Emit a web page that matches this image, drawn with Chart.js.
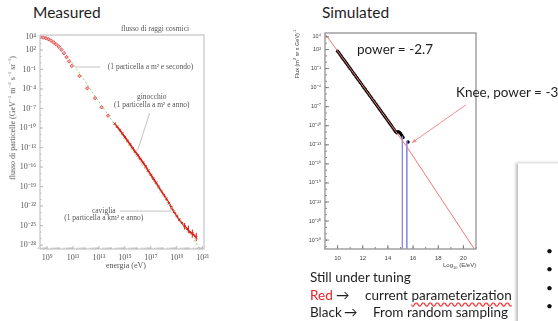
<!DOCTYPE html>
<html>
<head>
<meta charset="utf-8">
<script src="https://cdn.jsdelivr.net/npm/chart.js@4.4.1/dist/chart.umd.min.js"></script>
<style>
  html, body { margin: 0; padding: 0; background: #fff; }
  body { width: 558px; height: 321px; position: relative; overflow: hidden;
         font-family: Lato, "Liberation Sans", sans-serif; color: #1e1e1e; }
  .t { position: absolute; white-space: nowrap; line-height: 1; }
  .rot { transform: translate(-50%, -50%) rotate(-90deg); }
  .serif { font-family: "Liberation Serif", serif; color: #555; }
  canvas { position: absolute; top: 0; }
  #panel { position: absolute; left: 518px; top: 163px; width: 60px; height: 170px; background: #fff;
           border-top: 1px solid #eee; box-shadow: -2px 0 3px rgba(0,0,0,0.28); }
  .dot { position: absolute; left: 546px; font-size: 12px; line-height: 1; color: #111; }
</style>
</head>
<body>

<div class="t" style="left:33px; top:5px; font-size:15.5px;">Measured</div>
<div class="t" style="left:322px; top:5px; font-size:15.5px;">Simulated</div>

<canvas id="measured" width="230" height="280" style="left:0px;"></canvas>
<canvas id="simulated" width="288" height="280" style="left:270px;"></canvas>

<!-- axis titles -->
<div class="t serif" style="left:155px; top:29px; font-size:7.5px; transform:translate(-50%,-50%);">flusso di raggi cosmici</div>
<div class="t serif rot" style="left:12px; top:118px; font-size:8px;">flusso di particelle (GeV<sup style="font-size:5px">−1</sup> m<sup style="font-size:5px">−2</sup> s<sup style="font-size:5px">−1</sup> sr<sup style="font-size:5px">−1</sup>)</div>
<div class="t serif" style="left:126px; top:266px; font-size:8px; transform:translate(-50%,-50%);">energia (eV)</div>

<div class="t rot" style="left:297px; top:54px; font-size:5.5px; font-family:'Liberation Sans'; color:#444;">Flux (m<sup style="font-size:4px">2</sup> sr s GeV)<sup style="font-size:4px">-1</sup></div>
<div class="t" style="left:443px; top:262px; font-size:6px; font-family:'Liberation Sans'; color:#444;">Log<sub style="font-size:4px">10</sub> (E/eV)</div>

<div class="t" style="left:357px; top:43px; font-size:13.5px;">power = -2.7</div>
<div class="t" style="left:456px; top:86px; font-size:13.5px;">Knee, power = -3</div>

<div class="t" style="left:310px; top:271px; font-size:13.5px;">Still under tuning</div>
<div class="t" style="left:310px; top:289px; font-size:13.5px;"><span style="color:#e8202a">Red</span></div>
<div class="t" style="left:336px; top:289px; font-size:13.5px;">→</div>
<div class="t" style="left:365px; top:289px; font-size:13.5px;">current <span style="text-decoration:underline wavy #e33; text-underline-offset:2px;">parameterization</span></div>
<div class="t" style="left:310px; top:306px; font-size:13.5px;">Black</div>
<div class="t" style="left:344px; top:306px; font-size:13.5px;">→</div>
<div class="t" style="left:373px; top:306px; font-size:13.5px;">From random sampling</div>

<div id="panel"></div>
<div class="dot" style="top:245px;">•</div>
<div class="dot" style="top:263px;">•</div>
<div class="dot" style="top:282px;">•</div>
<div class="dot" style="top:300px;">•</div>

<script>
// ---- measured spectrum (log10 E/eV, log10 flux) ----
var measLowE = [8.5, 8.7, 8.9, 9.1, 9.3, 9.5, 9.7, 9.9, 10.1, 10.3, 10.5, 10.7, 10.9, 11.5, 12.1, 12.7, 13.2, 13.7];
var measLowF = [3.98, 3.92, 3.82, 3.66, 3.45, 3.15, 2.85, 2.5, 2.05, 1.5, 0.9, 0.25, -0.45, -2.0, -3.9, -5.4, -6.8, -8.1];

var measHighE = [14.2, 14.4, 14.6, 14.8, 15.0, 15.2, 15.4, 15.6, 15.8, 16.0, 16.2, 16.4, 16.6, 16.8, 17.0,
                 17.2, 17.4, 17.6, 17.8, 18.0, 18.2, 18.4, 18.6, 18.8, 19.0, 19.2, 19.4, 19.6, 19.8, 20.0, 20.2, 20.5];
var measHighF = [-9.3, -9.8, -10.3, -10.85, -11.4, -11.95, -12.5, -13.1, -13.65, -14.2, -14.75, -15.3, -15.9, -16.55, -17.2,
                 -17.8, -18.4, -19.05, -19.7, -20.3, -20.9, -21.55, -22.25, -22.9, -23.5, -24.1, -24.6, -25.1, -25.5, -26.0, -26.2, -26.8];

// error bars on the highest-energy points
var errE = [19.6, 19.9, 20.2, 20.5];
var errLo = [-25.6, -26.1, -26.8, -27.4];
var errHi = [-24.6, -25.0, -25.6, -26.1];

// straight reference line (dashed green)
var fitE = [10.9, 20.8];
var fitF = [0.15, -28.6];

var measXTicks = [9, 11, 13, 15, 17, 19, 21];
var measYTicks = [4, 2, -1, -4, -7, -10, -13, -16, -19, -22, -25, -28];

var measNotes = [
  { text: '(1 particella a m² e secondo)', e: 13.68, f: -0.62, align: 'left' },
  { text: 'ginocchio', e: 17.07, f: -5.23, align: 'center' },
  { text: '(1 particella a m² e anno)', e: 17.07, f: -6.4, align: 'center' },
  { text: 'caviglia', e: 13.37, f: -22.77, align: 'center' },
  { text: '(1 particella a km² e anno)', e: 13.37, f: -23.85, align: 'center' }
];
var measLeaders = [[11.2, -0.62, 13.1, -0.62], [16.91, -7.69, 15.99, -13.38], [14.6, -22.77, 18.6, -22.77]];

// ---- simulated spectrum ----
var paramE = [9, 15.5, 21];
var paramF = [4.5, -13.3, -29.8];

var sampleE = [10.0, 10.1, 10.2, 10.3, 10.4, 10.5, 10.6, 10.7, 10.8, 10.9, 11.0, 11.1, 11.2, 11.3, 11.4, 11.5,
               11.6, 11.7, 11.8, 11.9, 12.0, 12.1, 12.2, 12.3, 12.4, 12.5, 12.6, 12.7, 12.8, 12.9, 13.0, 13.1,
               13.2, 13.3, 13.4, 13.5, 13.6, 13.7, 13.8, 13.9, 14.0, 14.1, 14.2, 14.3, 14.4, 14.5, 14.6, 14.7,
               14.8, 14.9, 15.0, 15.1, 15.2, 15.6];
var sampleF = [1.74, 1.50, 1.20, 0.95, 0.64, 0.40, 0.11, -0.15, -0.44, -0.70, -0.99, -1.24, -1.53, -1.81, -2.07, -2.36,
               -2.63, -2.89, -3.18, -3.44, -3.73, -4.00, -4.26, -4.55, -4.81, -5.10, -5.37, -5.63, -5.92, -6.18, -6.47, -6.74,
               -7.00, -7.29, -7.55, -7.84, -8.12, -8.38, -8.66, -8.93, -9.22, -9.49, -9.77, -10.05, -10.33, -10.62, -10.90, -11.10,
               -10.95, -11.0, -11.2, -11.5, -11.85, -12.55];

// histogram bins that drop to zero near the knee
var binE = [15.15, 15.5];
var binTop = [-11.7, -12.4];

var simXTicks = [10, 12, 14, 16, 18, 20];
var simYTicks = [4, 2, -1, -4, -7, -10, -13, -16, -19, -22, -25, -28];

function pts(es, fs) {
  return es.map(function (e, i) { return { x: e, y: Math.pow(10, fs[i]) }; });
}
function ptsLog(es, fs) {
  return es.map(function (e, i) { return { x: Math.pow(10, e), y: Math.pow(10, fs[i]) }; });
}
function sup(n) {
  var m = { '-': '⁻', '0': '⁰', '1': '¹', '2': '²', '3': '³', '4': '⁴', '5': '⁵', '6': '⁶', '7': '⁷', '8': '⁸', '9': '⁹' };
  return String(n).split('').map(function (c) { return m[c]; }).join('');
}
function expLabel(v) { return '10' + sup(Math.round(Math.log10(v))); }

// frame around the plot plus inward tick marks
var frameTicks = {
  id: 'frameTicks',
  afterDraw: function (chart, args, o) {
    var ctx = chart.ctx, a = chart.chartArea, x = chart.scales.x, y = chart.scales.y;
    ctx.save();
    ctx.strokeStyle = o.tickColor;
    ctx.lineWidth = 0.8;
    ctx.beginPath();
    o.xMajor.forEach(function (v) { var p = x.getPixelForValue(v); ctx.moveTo(p, a.bottom); ctx.lineTo(p, a.bottom - o.majorLen); });
    o.xMinor.forEach(function (v) { var p = x.getPixelForValue(v); ctx.moveTo(p, a.bottom); ctx.lineTo(p, a.bottom - o.minorLen); });
    o.yMajor.forEach(function (v) { var p = y.getPixelForValue(v); ctx.moveTo(a.left, p); ctx.lineTo(a.left + o.majorLen, p); });
    o.yMinor.forEach(function (v) { var p = y.getPixelForValue(v); ctx.moveTo(a.left, p); ctx.lineTo(a.left + o.minorLen, p); });
    ctx.stroke();
    ctx.strokeStyle = o.color;
    ctx.lineWidth = o.width;
    ctx.strokeRect(a.left, a.top, a.right - a.left, a.bottom - a.top);
    ctx.restore();
  }
};

// leader lines, captions and error bars on the measured panel
var measExtras = {
  id: 'measExtras',
  afterDatasetsDraw: function (chart) {
    var ctx = chart.ctx, x = chart.scales.x, y = chart.scales.y;
    function px(e) { return x.getPixelForValue(Math.pow(10, e)); }
    function py(f) { return y.getPixelForValue(Math.pow(10, f)); }
    ctx.save();
    ctx.strokeStyle = '#e01e1e';
    ctx.lineWidth = 1;
    ctx.beginPath();
    errE.forEach(function (e, i) { ctx.moveTo(px(e), py(errLo[i])); ctx.lineTo(px(e), py(errHi[i])); });
    ctx.stroke();
    ctx.strokeStyle = '#b4b4b4';
    ctx.lineWidth = 0.8;
    ctx.beginPath();
    measLeaders.forEach(function (l) { ctx.moveTo(px(l[0]), py(l[1])); ctx.lineTo(px(l[2]), py(l[3])); });
    ctx.stroke();
    ctx.fillStyle = '#555';
    ctx.font = '7.5px "Liberation Serif"';
    ctx.textBaseline = 'middle';
    measNotes.forEach(function (n) {
      ctx.textAlign = n.align;
      ctx.fillText(n.text, px(n.e), py(n.f));
    });
    ctx.restore();
  }
};

// arrow pointing at the knee
var kneeArrow = {
  id: 'kneeArrow',
  afterDatasetsDraw: function (chart) {
    var ctx = chart.ctx, x = chart.scales.x, y = chart.scales.y;
    var x0 = x.getPixelForValue(20.2), y0 = y.getPixelForValue(Math.pow(10, -6.7));
    var x1 = x.getPixelForValue(15.9), y1 = y.getPixelForValue(Math.pow(10, -12.7));
    var ang = Math.atan2(y1 - y0, x1 - x0);
    ctx.save();
    ctx.strokeStyle = '#f08c8c';
    ctx.fillStyle = '#f08c8c';
    ctx.lineWidth = 1;
    ctx.beginPath(); ctx.moveTo(x0, y0); ctx.lineTo(x1, y1); ctx.stroke();
    ctx.beginPath();
    ctx.moveTo(x1, y1);
    ctx.lineTo(x1 - 5 * Math.cos(ang - 0.4), y1 - 5 * Math.sin(ang - 0.4));
    ctx.lineTo(x1 - 5 * Math.cos(ang + 0.4), y1 - 5 * Math.sin(ang + 0.4));
    ctx.closePath(); ctx.fill();
    ctx.restore();
  }
};

var range = function (a, b) { var r = []; for (var i = a; i <= b; i++) r.push(i); return r; };
var measXMinor = [];
range(8, 20).forEach(function (d) { for (var k = 2; k <= 9; k++) measXMinor.push(Math.pow(10, d) * k); });

var ctx = document.getElementById('measured').getContext('2d');
var measChart = new Chart(ctx, {
  type: 'scatter',
  data: {
    datasets: [
      { data: ptsLog(fitE, fitF), showLine: true, borderColor: '#8fd27c', borderDash: [2, 2], borderWidth: 1, pointRadius: 0 },
      { data: ptsLog(measLowE, measLowF), pointStyle: 'rectRot', pointRadius: 1.8,
        backgroundColor: 'rgba(240,110,110,0.6)', borderColor: '#e02828', borderWidth: 0.7 },
      { data: ptsLog(measHighE, measHighF), showLine: true, borderColor: '#e01e1e', borderWidth: 1.8,
        pointStyle: 'crossRot', pointRadius: 1.6, pointBorderColor: '#e01e1e', pointBorderWidth: 1 }
    ]
  },
  options: {
    responsive: false,
    animation: false,
    layout: { padding: { top: 35, right: 26, left: 0, bottom: 0 } },
    plugins: {
      legend: { display: false },
      tooltip: { enabled: false },
      frameTicks: {
        color: '#c4c4c4', width: 1.2, tickColor: '#aaa', majorLen: 3, minorLen: 1.5,
        xMajor: measXTicks.map(function (e) { return Math.pow(10, e); }),
        xMinor: measXMinor,
        yMajor: measYTicks.map(function (e) { return Math.pow(10, e); }),
        yMinor: range(-28, 4).map(function (e) { return Math.pow(10, e); })
      }
    },
    scales: {
      x: {
        type: 'logarithmic',
        min: Math.pow(10, 8.45), max: Math.pow(10, 21.1),
        grid: { display: false, drawTicks: false },
        border: { display: false },
        afterBuildTicks: function (s) { s.ticks = measXTicks.map(function (e) { return { value: Math.pow(10, e) }; }); },
        afterFit: function (s) { s.height = 31; },
        ticks: { callback: expLabel, autoSkip: false, maxRotation: 0, padding: 4,
                 color: '#555', font: { family: 'Liberation Serif', size: 8 } }
      },
      y: {
        type: 'logarithmic',
        min: Math.pow(10, -28.6), max: Math.pow(10, 4.3),
        grid: { display: false, drawTicks: false },
        border: { display: false },
        afterBuildTicks: function (s) { s.ticks = measYTicks.map(function (e) { return { value: Math.pow(10, e) }; }); },
        afterFit: function (s) { s.width = 40; },
        ticks: { callback: expLabel, autoSkip: false, padding: 4,
                 color: '#555', font: { family: 'Liberation Serif', size: 8 } }
      }
    }
  },
  plugins: [frameTicks, measExtras]
});

var binSets = binE.map(function (e, i) {
  return { data: [{ x: e, y: Math.pow(10, binTop[i]) }, { x: e, y: Math.pow(10, -31) }],
           showLine: true, borderColor: '#8a8ae6', borderWidth: 1, pointRadius: 0 };
});

var ctx = document.getElementById('simulated').getContext('2d');
var simChart = new Chart(ctx, {
  type: 'scatter',
  data: {
    datasets: [
      { data: pts(paramE, paramF), showLine: true, borderColor: '#f07878', borderWidth: 1, pointRadius: 0 }
    ].concat(binSets).concat([
      { data: pts(sampleE, sampleF), pointRadius: 1.7, backgroundColor: '#000', borderColor: '#000', borderWidth: 0 }
    ])
  },
  options: {
    responsive: false,
    animation: false,
    layout: { padding: { top: 33, right: 82, left: 0, bottom: 0 } },
    plugins: {
      legend: { display: false },
      tooltip: { enabled: false },
      frameTicks: {
        color: '#9a9a9a', width: 1.4, tickColor: '#666', majorLen: 4, minorLen: 2,
        xMajor: simXTicks,
        xMinor: range(9, 21),
        yMajor: simYTicks.map(function (e) { return Math.pow(10, e); }),
        yMinor: range(-29, 4).map(function (e) { return Math.pow(10, e); })
      }
    },
    scales: {
      x: {
        type: 'linear', min: 9, max: 21,
        grid: { display: false, drawTicks: false },
        border: { display: false },
        afterBuildTicks: function (s) { s.ticks = simXTicks.map(function (v) { return { value: v }; }); },
        afterFit: function (s) { s.height = 31; },
        ticks: { autoSkip: false, maxRotation: 0, padding: 6,
                 color: '#444', font: { family: 'Liberation Sans', size: 6 } }
      },
      y: {
        type: 'logarithmic',
        min: Math.pow(10, -29.4), max: Math.pow(10, 4.6),
        grid: { display: false, drawTicks: false },
        border: { display: false },
        afterBuildTicks: function (s) { s.ticks = simYTicks.map(function (e) { return { value: Math.pow(10, e) }; }); },
        afterFit: function (s) { s.width = 55; },
        ticks: { callback: expLabel, autoSkip: false, padding: 4,
                 color: '#444', font: { family: 'Liberation Sans', size: 5.5 } }
      }
    }
  },
  plugins: [frameTicks, kneeArrow]
});
</script>
</body>
</html>
